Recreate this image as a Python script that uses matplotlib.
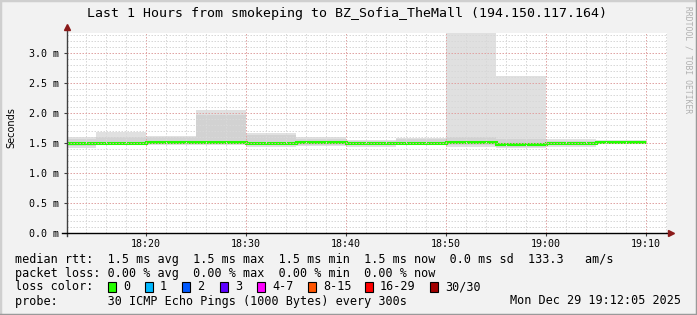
import matplotlib
matplotlib.use("Agg")
import matplotlib.pyplot as plt
from matplotlib.patches import Rectangle
from matplotlib.lines import Line2D
from matplotlib.ticker import MultipleLocator, FuncFormatter

# time window, minutes after 18:00
t_start = 12 + 5 / 60
t_end = 72 + 5 / 60
# each sample covers the 5 minutes ending at seg_end
seg_end = [15, 20, 25, 30, 35, 40, 45, 50, 55, 60, 65, 70]

# smoke (ms)
smoke_min = [1.42, 1.48, 1.47, 1.47, 1.44, 1.45, 1.44, 1.46, 1.44, 1.42, 1.44, 1.49]
smoke_p10 = [1.45, 1.49, 1.48, 1.50, 1.46, 1.47, 1.46, 1.47, 1.47, 1.44, 1.46, 1.49]
smoke_p90 = [1.56, 1.60, 1.60, 1.97, 1.64, 1.57, 1.53, 1.56, 1.60, 1.56, 1.54, 1.53]
smoke_max = [1.60, 1.68, 1.62, 2.05, 1.66, 1.60, 1.55, 1.59, 3.40, 2.61, 1.56, 1.55]
median_rtt = [1.495, 1.50, 1.51, 1.52, 1.505, 1.51, 1.50, 1.50, 1.51, 1.48, 1.50, 1.51]

loss_labels = ["0", "1", "2", "3", "4-7", "8-15", "16-29", "30/30"]
loss_colors = ["#26ff00", "#00b8ff", "#0059ff", "#5e00ff", "#ff00ff", "#ff5500", "#ff0000", "#a10000"]

title = "Last 1 Hours from smokeping to BZ_Sofia_TheMall (194.150.117.164)"
line_rtt = "median rtt:  1.5 ms avg  1.5 ms max  1.5 ms min  1.5 ms now  0.0 ms sd  133.3   am/s"
line_loss = "packet loss: 0.00 % avg  0.00 % max  0.00 % min  0.00 % now"
line_probe = "probe:       30 ICMP Echo Pings (1000 Bytes) every 300s"
stamp = "Mon Dec 29 19:12:05 2025"

W, H = 697, 315
mono = "DejaVu Sans Mono"

fig = plt.figure(figsize=(W / 100, H / 100), dpi=100)
fig.patch.set_facecolor("#f2f2f2")

def fx(px):
    return px / W

def fy(py):
    return 1 - py / H

ax = fig.add_axes([fx(67), fy(233), fx(600), 200 / H])
ax.set_facecolor("white")

edges = [t_start] + seg_end
ax.stairs(smoke_max, edges, baseline=smoke_min, fill=True, color="#e0e0e0", zorder=1)
ax.stairs(smoke_p90, edges, baseline=smoke_p10, fill=True, color="#d2d2d2", zorder=1.2)
ax.stairs(median_rtt, edges, baseline=None, color="#22ff00", lw=2.2, zorder=2)

ax.set_xlim(t_start, t_end)
ax.set_ylim(0, 10 / 3)

ax.xaxis.set_major_locator(MultipleLocator(10))
ax.xaxis.set_minor_locator(MultipleLocator(2))
ax.yaxis.set_major_locator(MultipleLocator(0.5))
ax.yaxis.set_minor_locator(MultipleLocator(0.1))
ax.xaxis.set_major_formatter(FuncFormatter(lambda v, p: "%d:%02d" % (18 + int(v) // 60, int(v) % 60)))
ax.yaxis.set_major_formatter(FuncFormatter(lambda v, p: "%.1f m" % v))

ax.set_axisbelow(False)
ax.grid(which="minor", color="#d8d8d8", lw=0.72, ls=(0, (1.5, 1.5)))
ax.grid(which="major", color="#e0a4a4", lw=0.72, ls=(0, (1.5, 1.5)))

for s in ["top", "right", "left", "bottom"]:
    ax.spines[s].set_visible(False)

ax.tick_params(which="major", length=2, width=0.8, color="#404040", labelsize=7.2, pad=2)
ax.tick_params(which="minor", length=0)
for lab in ax.get_xticklabels() + ax.get_yticklabels():
    lab.set_fontfamily(mono)
ax.tick_params(axis="y", pad=4)

# axes with arrows, like rrdtool
ax.add_line(Line2D([0, 0], [-0.015, 1.03], transform=ax.transAxes, color="#404040", lw=1, clip_on=False, zorder=5))
ax.add_line(Line2D([-0.008, 1.005], [0, 0], transform=ax.transAxes, color="black", lw=1, clip_on=False, zorder=5))
ax.plot([0], [1.03], marker="^", ms=4, color="#8b1a1a", transform=ax.transAxes, clip_on=False, zorder=6)
ax.plot([1.007], [0], marker=">", ms=4, color="#8b1a1a", transform=ax.transAxes, clip_on=False, zorder=6)

fig.text(fx(347), fy(14), title, ha="center", va="center", fontsize=9.5, family=mono)
fig.text(fx(11), fy(128), "Seconds", rotation=90, ha="center", va="center", fontsize=7)
fig.text(fx(688), fy(60), "RRDTOOL / TOBI OETIKER", rotation=270, ha="center", va="center",
         fontsize=5.8, family=mono, color="#b0b0b0")

fig.text(fx(15), fy(259), line_rtt, va="center", fontsize=8.5, family=mono)
fig.text(fx(15), fy(273), line_loss, va="center", fontsize=8.5, family=mono)
fig.text(fx(15), fy(287), "loss color:", va="center", fontsize=8.5, family=mono)
fig.text(fx(15), fy(301), line_probe, va="center", fontsize=8.5, family=mono)
fig.text(fx(681), fy(301), stamp, ha="right", va="center", fontsize=8.5, family=mono)

box_x = [108, 145, 182, 220, 257, 308, 365, 430]
for bx, lab, col in zip(box_x, loss_labels, loss_colors):
    fig.add_artist(Rectangle((fx(bx), fy(292)), 8 / W, 10 / H, transform=fig.transFigure,
                             facecolor=col, edgecolor="black", lw=0.8))
    fig.text(fx(bx + 15), fy(287), lab, va="center", fontsize=8.5, family=mono)

# frame
fig.add_artist(Line2D([0, 0], [0, 1], transform=fig.transFigure, color="#cfcfcf", lw=2.5))
fig.add_artist(Line2D([0, 1], [1, 1], transform=fig.transFigure, color="#cfcfcf", lw=2.5))
fig.add_artist(Line2D([1, 1], [0, 1], transform=fig.transFigure, color="#9a9a9a", lw=2.5))
fig.add_artist(Line2D([0, 1], [0, 0], transform=fig.transFigure, color="#9a9a9a", lw=2.5))

fig.savefig("out.png", dpi=100, facecolor=fig.get_facecolor())
